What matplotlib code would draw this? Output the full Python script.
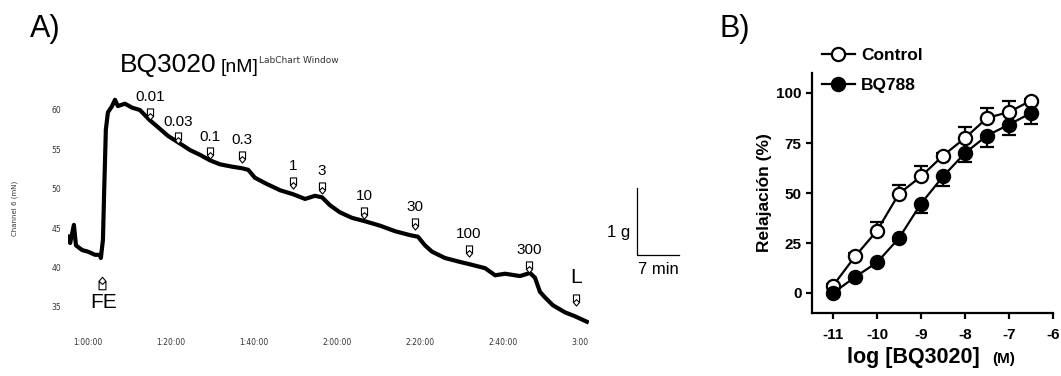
import matplotlib
matplotlib.use('Agg')
import numpy as np
import matplotlib.pyplot as plt
from matplotlib.path import Path
from matplotlib.patches import Rectangle
from matplotlib.lines import Line2D

# ---- panel A: isometric tension trace (time in min, tension in mN)
trace_t = [55.2, 55.7, 56.6, 57.1, 58.6, 60.0, 61.7, 62.9, 63.1, 63.6, 63.9, 64.3, 64.8,
           65.8, 66.5, 67.2, 68.9, 70.6, 72.5, 74.9, 76.9, 79.3, 81.7, 84.6, 87.0, 89.4,
           91.8, 94.7, 97.1, 98.6, 100.2, 102.7, 106.3, 109.4, 112.3, 114.7, 116.4, 118.3,
           120.7, 123.6, 126.5, 130.4, 134.0, 137.6, 139.5, 141.2, 142.9, 146.0, 149.6,
           152.0, 155.7, 158.1, 160.5, 164.1, 166.5, 167.7, 168.9, 170.1, 172.0, 174.9,
           177.3, 180.2]
trace_v = [43.9, 43.1, 45.4, 42.8, 42.2, 42.0, 41.6, 41.6, 41.2, 43.5, 49.8, 57.5, 59.7,
           60.5, 61.3, 60.5, 60.8, 60.3, 60.0, 58.7, 57.8, 56.7, 55.9, 54.9, 54.3, 53.6,
           53.1, 52.8, 52.6, 52.4, 51.4, 50.7, 49.8, 49.3, 48.7, 49.1, 48.9, 47.9,
           47.0, 46.3, 45.9, 45.3, 44.6, 44.1, 43.9, 42.8, 42.0, 41.2, 40.7,
           40.4, 39.9, 39.0, 39.2, 38.9, 39.3, 38.7, 36.9, 36.2, 35.2, 34.3,
           33.8, 33.1]

dose_labels = ['0.01', '0.03', '0.1', '0.3', '1', '3', '10', '30', '100', '300', 'L']
dose_t = [74.9, 81.7, 89.4, 97.1, 109.4, 116.4, 126.5, 138.8, 151.8, 166.3, 177.6]
dose_v = [59.5, 56.4, 54.5, 54.0, 50.7, 50.1, 46.9, 45.5, 42.1, 40.1, 35.9]
fe_t, fe_v = 63.4, 38.0

a_xticks = [60, 80, 100, 120, 140, 160, 180]
a_xlabels = ['1:00:00', '1:20:00', '1:40:00', '2:00:00', '2:20:00', '2:40:00', '3:00:00']
a_yticks = [35, 40, 45, 50, 55, 60]

# ---- panel B: concentration-response curves
logc = [-11, -10.5, -10, -9.5, -9, -8.5, -8, -7.5, -7, -6.5]
control = [3.7, 18.3, 31.2, 49.7, 58.3, 68.7, 77.5, 87.5, 90.5, 96.2]
control_err = [1.0, 1.5, 4.1, 4.5, 5.0, 1.5, 5.3, 5.0, 5.3, 1.0]
bq788 = [0.0, 8.0, 15.3, 27.5, 44.7, 58.3, 70.0, 78.7, 84.2, 90.0]
bq788_err = [1.0, 1.0, 1.0, 1.5, 4.7, 4.6, 4.7, 5.9, 5.0, 5.3]

W, H = 1061, 376
fig = plt.figure(figsize=(W / 100, H / 100), dpi=100)


def fx(px):
    return px / W


def fy(py):
    return 1 - py / H


# arrow marker (bullet with notch), tip pointing down
arrow = Path([(-0.55, 1), (0.55, 1), (0.55, -0.35), (0, -1), (-0.55, -0.35), (-0.55, 1),
               (-0.55, -0.35), (0, 0.15), (0.55, -0.35)],
              [Path.MOVETO, Path.LINETO, Path.LINETO, Path.LINETO, Path.LINETO, Path.CLOSEPOLY,
               Path.MOVETO, Path.LINETO, Path.LINETO])
arrow_up = Path(arrow.vertices * np.array([1, -1]), arrow.codes)

axA = fig.add_axes([fx(68), fy(330), fx(589 - 68), (330 - 90) / H])
axA.plot(trace_t, trace_v, color='black', lw=3, solid_joinstyle='round')
axA.plot(dose_t, dose_v, ls='none', marker=arrow, ms=8, mfc='white', mec='black', mew=0.8)
axA.plot([fe_t], [fe_v], ls='none', marker=arrow_up, ms=9, mfc='white', mec='black', mew=0.8)
for lab, t, v in zip(dose_labels, dose_t, dose_v):
    fs = 15 if lab == 'L' else 11
    dy = 9 if lab == 'L' else 7
    axA.annotate(lab, (t, v), xytext=(0, dy), textcoords='offset points',
                 ha='center', va='bottom', fontsize=fs, family='Liberation Sans')
axA.annotate('FE', (fe_t, fe_v), xytext=(1, -7), textcoords='offset points',
             ha='center', va='top', fontsize=15, family='Liberation Sans')

axA.set_xlim(55.18, 180.72)
axA.set_ylim(32.05, 62.54)
axA.set_xticks(a_xticks)
axA.set_xticklabels(a_xlabels)
axA.set_yticks(a_yticks)
axA.tick_params(length=0, labelsize=5.5, labelcolor='#333333')
axA.tick_params(axis='x', pad=6)
axA.tick_params(axis='y', pad=5)
for s in axA.spines.values():
    s.set_visible(False)
clip = Rectangle((0, 0), fx(589), 1, transform=fig.transFigure)
axA.get_xticklabels()[-1].set_clip_path(clip)

fig.text(fx(15), fy(208), 'Channel 6 (mN)', rotation=90, ha='center', va='center',
         fontsize=5, color='#333333', family='Liberation Sans Narrow')
fig.text(fx(120), fy(72), 'BQ3020', fontsize=19, family='Liberation Sans', va='baseline')
fig.text(fx(221), fy(72), '[nM]', fontsize=14, family='Liberation Sans', va='baseline')
fig.text(fx(259), fy(63), 'LabChart Window', fontsize=6.5, color='#333333',
         family='DejaVu Sans', va='baseline')
fig.text(fx(30), fy(37), 'A)', fontsize=22, family='Liberation Sans', va='baseline')
fig.text(fx(719), fy(37), 'B)', fontsize=22, family='Liberation Sans', va='baseline')

# scale bar
fig.add_artist(Line2D([fx(637), fx(637), fx(679)], [fy(188), fy(255), fy(255)],
                      transform=fig.transFigure, color='black', lw=0.9))
fig.text(fx(630), fy(232), '1 g', ha='right', va='center', fontsize=12, family='Liberation Sans')
fig.text(fx(658), fy(270), '7 min', ha='center', va='center', fontsize=12, family='Liberation Sans')

# ---- panel B
axB = fig.add_axes([fx(812), fy(313), fx(1053 - 812), (313 - 73) / H])
zero = [0] * len(logc)
axB.errorbar(logc, control, yerr=[zero, control_err], color='black', lw=1.6, marker='o',
             ms=9.5, mfc='white', mec='black', mew=1.6, capsize=4.7, capthick=1.6,
             elinewidth=1.6, label='Control')
axB.errorbar(logc, bq788, yerr=[bq788_err, zero], color='black', lw=1.6, marker='o',
             ms=9.5, mfc='black', mec='black', mew=1.6, capsize=4.7, capthick=1.6,
             elinewidth=1.6, label='BQ788')
axB.set_xlim(-11.48, -6)
axB.set_ylim(-10, 110)
axB.set_xticks([-11, -10, -9, -8, -7, -6])
axB.set_xticklabels(['-11', '-10', '-9', '-8', '-7', '-6'])
axB.set_yticks([0, 25, 50, 75, 100])
for s in ['top', 'right']:
    axB.spines[s].set_visible(False)
for s in ['left', 'bottom']:
    axB.spines[s].set_linewidth(1.6)
axB.tick_params(direction='out', length=4.5, width=1.6, labelsize=11, pad=3)
axB.tick_params(axis='x', pad=6)
for lab in axB.get_xticklabels() + axB.get_yticklabels():
    lab.set_fontweight('bold')
    lab.set_family('Liberation Sans')
axB.set_ylabel('Relajación (%)', fontsize=12.5, fontweight='bold', family='Liberation Sans',
               labelpad=3)

h_ctrl = Line2D([], [], color='black', lw=1.6, marker='o', ms=9.5, mfc='white', mec='black', mew=1.6)
h_bq = Line2D([], [], color='black', lw=1.6, marker='o', ms=9.5, mfc='black', mec='black', mew=1.6)
fig.legend([h_ctrl, h_bq], ['Control', 'BQ788'], loc='upper left',
           bbox_to_anchor=(fx(822), fy(48)), bbox_transform=fig.transFigure, frameon=False,
           borderpad=0, borderaxespad=0, handlelength=1.9, handletextpad=0.35,
           labelspacing=0.85, prop={'family': 'Liberation Sans', 'weight': 'bold', 'size': 12.5})

fig.text(fx(847), fy(363), 'log [BQ3020]', fontsize=15.5, fontweight='bold',
         family='Liberation Sans', va='baseline')
fig.text(fx(992), fy(363), '(M)', fontsize=11, fontweight='bold',
         family='Liberation Sans', va='baseline')

fig.savefig('out.png', dpi=100)
